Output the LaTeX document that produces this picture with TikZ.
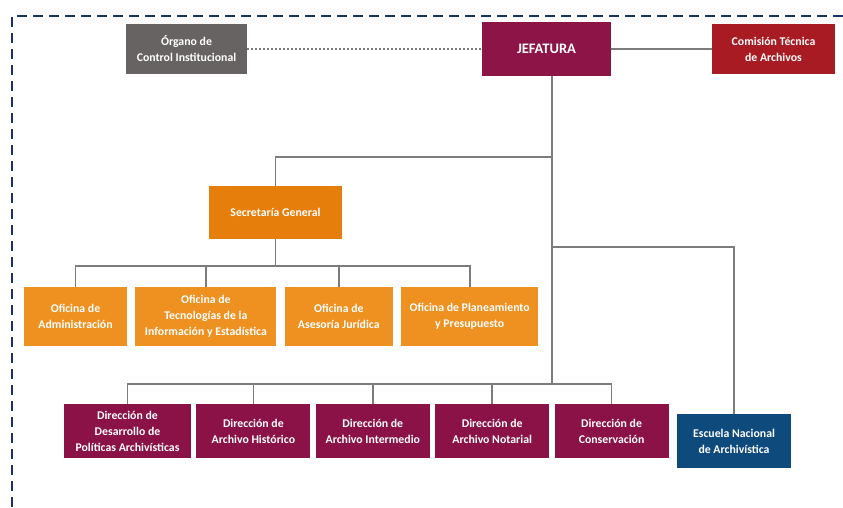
\documentclass[tikz,border=0pt]{standalone}
\usepackage{fontspec}
\setmainfont{Carlito}
\usepackage{tikz}
\usetikzlibrary{positioning, calc}
\usepackage{xcolor}
\definecolor{framenavy}{HTML}{1B316B}
\definecolor{linegray}{HTML}{7C7C7C}
\definecolor{ocigray}{HTML}{676363}
\definecolor{jefmaroon}{HTML}{8C1447}
\definecolor{comred}{HTML}{A91B22}
\definecolor{sgorange}{HTML}{E67E0C}
\definecolor{oforange}{HTML}{EE9121}
\definecolor{dirmaroon}{HTML}{8A1246}
\definecolor{escblue}{HTML}{0F4A7C}
\tikzstyle{unit}=[text=white,align=center,inner sep=1pt,font=\bfseries\fontsize{11.8}{16}\selectfont]
\tikzstyle{oficina}=[unit,fill=oforange,minimum height=59pt]
\tikzstyle{direccion}=[unit,fill=dirmaroon,minimum height=54pt,minimum width=114pt]
\tikzstyle{connect}=[linegray,line width=1.6pt]

\begin{document}
\begin{tikzpicture}[x=1pt,y=-1pt]
            \useasboundingbox (0,0) rectangle (843,507);
            \draw[framenavy, line width=2.2pt, dash pattern=on 10pt off 6pt] (12,507) -- (12,16) -- (843,16);

            \node[unit, fill=jefmaroon, minimum width=129pt, minimum height=54pt, font=\bfseries\fontsize{14.5}{16}\selectfont] (jef) at (546.5,49) {JEFATURA};
            \node[unit, fill=ocigray, minimum width=121pt, minimum height=50pt] (oci) at (186.5,49) {Órgano de\\Control Institucional};
            \node[unit, fill=comred, minimum width=123pt, minimum height=50pt] (com) at (773.5,49) {Comisión Técnica\\de Archivos};

            \node[unit, fill=sgorange, minimum width=133pt, minimum height=53pt] (sg) at (275.5,212.5) {Secretaría General};
            \node[oficina, minimum width=103pt] (adm) at (75.5,316.5) {Oficina de\\Administración};
            \node[oficina, minimum width=141pt, right=8pt of adm] (tec) {Oficina de\\Tecnologías de la\\Información y Estadística};
            \node[oficina, minimum width=108pt, right=8pt of tec] (ase) {Oficina de\\Asesoría Jurídica};
            \node[oficina, minimum width=137pt, right=8pt of ase] (pla) {Oficina de Planeamiento\\y Presupuesto};

            \node[direccion, minimum width=127pt] (d1) at (127.5,431) {Dirección de\\Desarrollo de\\Políticas Archivísticas};
            \node[direccion, right=5pt of d1] (d2) {Dirección de\\Archivo Histórico};
            \node[direccion, right=5pt of d2] (d3) {Dirección de\\Archivo Intermedio};
            \node[direccion, right=5pt of d3] (d4) {Dirección de\\Archivo Notarial};
            \node[direccion, right=5pt of d4] (d5) {Dirección de\\Conservación};
            \node[unit, fill=escblue, minimum width=114pt, minimum height=54pt] (esc) at (734,441) {Escuela Nacional\\de Archivística};

            \coordinate (j1) at (552,157);
            \coordinate (j2) at (552,247);
            \coordinate (j3) at (552,384);

            \draw[linegray, line width=1.6pt, dash pattern=on 1.6pt off 2.4pt] (oci) -- (jef);
            \draw[connect] (jef) -- (com);
            \draw[connect] (j3 |- jef.south) -- (j3);
            \draw[connect] (j1) -| (sg);
            \foreach \n in {adm,tec,ase,pla}
              \draw[connect] (sg.south) -- ++(0,27) -| (\n.north);
            \foreach \n in {d1,d2,d3,d4,d5}
              \draw[connect] (j3) -| (\n.north);
            \draw[connect] (j2) -| (esc);

        \end{tikzpicture}
\end{document}
